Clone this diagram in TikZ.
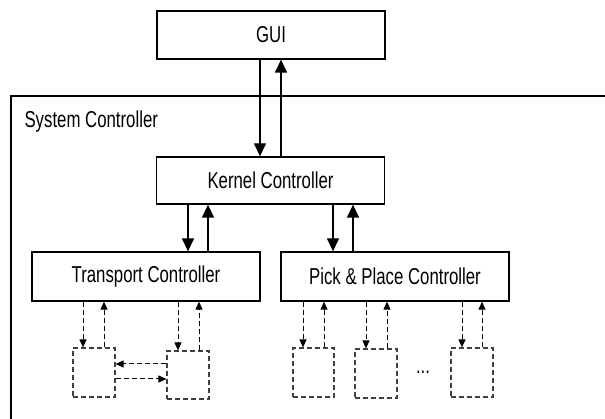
\documentclass[tikz,border=0pt]{standalone}
\usepackage{fontspec}
\setmainfont{Liberation Sans}[FakeStretch=0.73]
\usetikzlibrary{arrows.meta}
\tikzset{
	box/.style={draw, line width=1.3pt, minimum width=228pt, minimum height=48pt, inner sep=0pt, font=\fontsize{23}{26}\selectfont},
	subbox/.style={draw=black!75, line width=1.2pt, dash pattern=on 5pt off 3pt, minimum width=42pt, minimum height=49pt, inner sep=0pt},
	link/.style={line width=1.3pt, -{Triangle[length=13pt,width=12pt]}},
	sublink/.style={line width=1pt, dash pattern=on 5pt off 3pt, -{Triangle[length=8pt,width=7pt]}}
}

\begin{document}
\begin{tikzpicture}[x=1pt, y=-1pt]
				%%%%% START %%%%%
				\useasboundingbox (0, 0) rectangle (605, 419);
				\clip (0, 0) rectangle (605, 419);
				
				% outer frame
				\draw[line width=1.8pt] (11, 440) -- (11, 96) -- (640, 96);
				\node[anchor=west, font=\fontsize{23}{26}\selectfont] (sysname) at (21, 122) {System Controller};
				
				\node[box] (gui) at (271, 35) {GUI};
				\node[box, minimum height=47pt] (kernel) at (270.5, 180.5) {Kernel Controller};
				\node[box, minimum height=49pt] (transport) at (146, 276.5) {Transport Controller};
				\node[box, minimum height=49pt] (pick) at (395, 276.5) {Pick \& Place Controller};
				
				\node[subbox] (tsub1) at (94, 372.5) {};
				\node[subbox, minimum height=48pt] (tsub2) at (188, 375) {};
				\node[subbox, minimum width=41pt] (psub1) at (313.5, 372.5) {};
				\node[subbox] (psub2) at (376, 373.5) {};
				\node[subbox] (psub3) at (472, 372.5) {};
				\node[font=\fontsize{23}{26}\selectfont] (dots) at (423, 372) {...};
				
				% GUI <-> kernel
				\draw[link] (gui.south -| 260, 0) -- (kernel.north -| 260, 0);
				\draw[link] (kernel.north -| 281, 0) -- (gui.south -| 281, 0);
				
				% kernel <-> controllers
				\draw[link] (kernel.south -| 188, 0) -- (transport.north -| 188, 0);
				\draw[link] (transport.north -| 208, 0) -- (kernel.south -| 208, 0);
				\draw[link] (kernel.south -| 333, 0) -- (pick.north -| 333, 0);
				\draw[link] (pick.north -| 353, 0) -- (kernel.south -| 353, 0);
				
				% controllers <-> units
				\foreach \unit/\top/\dn/\up in {tsub1/transport/83/104, tsub2/transport/178/199, psub1/pick/303/324, psub2/pick/366/387, psub3/pick/462/482}{
					\draw[sublink] (\top.south -| \dn, 0) -- (\unit.north -| \dn, 0);
					\draw[sublink] (\unit.north -| \up, 0) -- (\top.south -| \up, 0);
				}
				
				% between transport units
				\draw[sublink] (tsub2.west |- 0, 364) -- (tsub1.east |- 0, 364);
				\draw[sublink] (tsub1.east |- 0, 379) -- (tsub2.west |- 0, 379);
				%%%%% END %%%%%
\end{tikzpicture}
\end{document}
